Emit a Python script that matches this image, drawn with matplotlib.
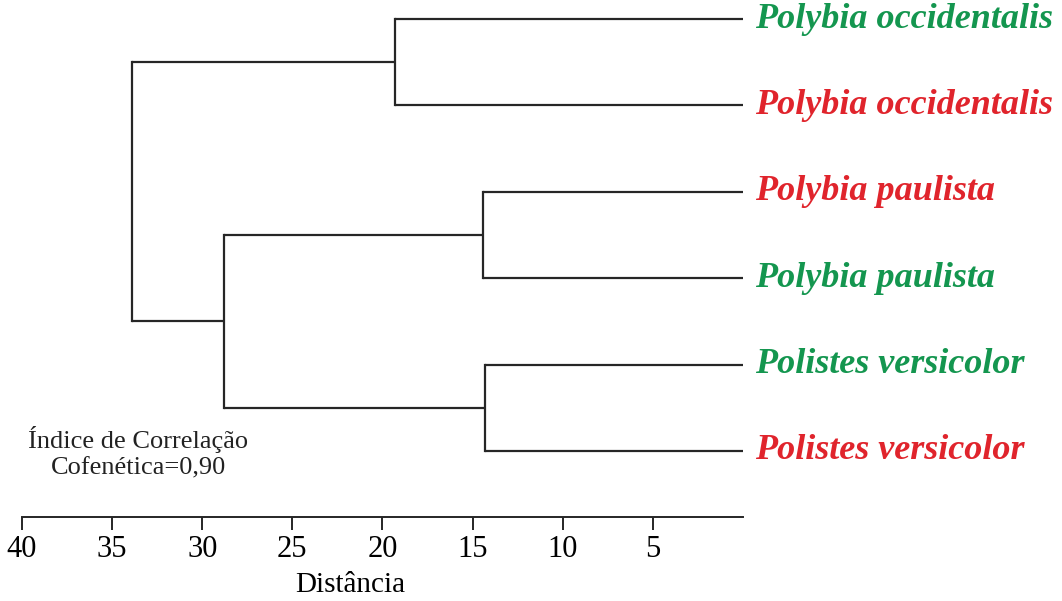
import numpy as np
import matplotlib.pyplot as plt

# leaves, top to bottom
labels = ['Polybia occidentalis', 'Polybia occidentalis', 'Polybia paulista',
          'Polybia paulista', 'Polistes versicolor', 'Polistes versicolor']
label_colors = ['#14964f', '#e0242c', '#e0242c', '#14964f', '#14964f', '#e0242c']

# merges: (left child, right child, distance); children < 6 are leaves
merges = [(0, 1, 19.3),
          (2, 3, 14.4),
          (4, 5, 14.3),
          (7, 8, 28.8),
          (6, 9, 33.9)]

ticks = [40, 35, 30, 25, 20, 15, 10, 5]

fig = plt.figure(figsize=(10.62, 6.01), dpi=100)
ax = fig.add_axes([22 / 1062, 84 / 601, 721 / 1062, 517 / 601])

serif = ['Liberation Serif', 'DejaVu Serif']
lc = '#262626'
lw = 1.6

# node positions
ypos = {i: float(i) for i in range(len(labels))}
xpos = {i: 0.0 for i in range(len(labels))}
for k, (a, b, d) in enumerate(merges):
    node = len(labels) + k
    ax.plot([xpos[a], d], [ypos[a], ypos[a]], color=lc, lw=lw, solid_capstyle='butt')
    ax.plot([xpos[b], d], [ypos[b], ypos[b]], color=lc, lw=lw, solid_capstyle='butt')
    ax.plot([d, d], [ypos[a], ypos[b]], color=lc, lw=lw, solid_capstyle='projecting')
    ypos[node] = (ypos[a] + ypos[b]) / 2
    xpos[node] = d

for i, (lab, col) in enumerate(zip(labels, label_colors)):
    ax.annotate(lab, (0, i), xytext=(9, 0), textcoords='offset points',
                va='center', ha='left', color=col, fontsize=26,
                fontweight='bold', fontstyle='italic', family=serif,
                annotation_clip=False)

ax.set_xlim(40, 0)
ax.set_ylim(5.764, -0.22)

for s in ['top', 'right', 'left']:
    ax.spines[s].set_visible(False)
ax.spines['bottom'].set_color(lc)
ax.spines['bottom'].set_linewidth(1.4)
ax.set_yticks([])
ax.set_xticks(ticks)
ax.set_xticklabels([str(t) for t in ticks], family=serif, fontsize=22)
ax.tick_params(axis='x', length=9, width=1.4, color=lc, pad=4)
ax.set_xlabel('Distância', family=serif, fontsize=21)
ax.xaxis.set_label_coords(0.455, -0.107)

ax.text(33.55, 5.02, 'Índice de Correlação\nCofenética=0,90', ha='center', va='center',
        family=serif, fontsize=19, linespacing=1.3, color='#222222')

fig.savefig('out.png', dpi=100)
